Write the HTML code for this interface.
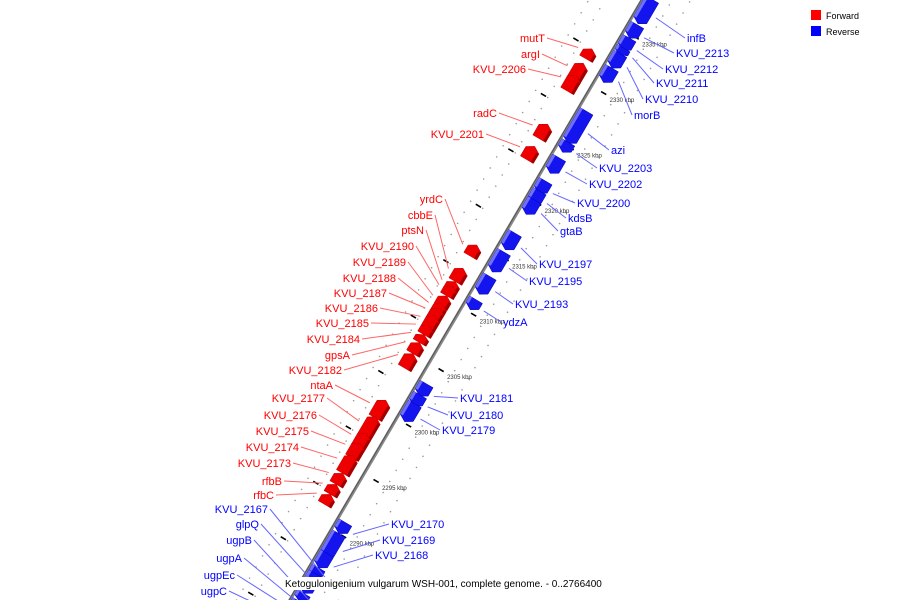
<!DOCTYPE html>
<html><head><meta charset="utf-8"><style>
html,body{margin:0;padding:0;background:#fff;overflow:hidden;}
svg{display:block;font-family:"Liberation Sans",sans-serif;}
</style></head><body>
<svg id="chart" width="900" height="600" viewBox="0 0 900 600" xmlns="http://www.w3.org/2000/svg">
<g id="legend">
<rect x="811" y="10" width="10" height="10" fill="#f00"/>
<text x="826" y="19" font-size="9" fill="#000">Forward</text>
<rect x="811" y="26" width="10" height="10" fill="#00f"/>
<text x="826" y="35" font-size="9" fill="#000">Reverse</text>
</g>
<g id="layer"></g>
<rect x="283" y="577" width="335" height="13" fill="#fff"/>
<text x="285" y="587" font-size="10" fill="#000">Ketogulonigenium vulgarum WSH-001, complete genome. - 0..2766400</text>
</svg>
<script>
const geneNames=["infB","KVU_2213","KVU_2212","KVU_2211","KVU_2210","morB","azi","KVU_2203","KVU_2202","KVU_2200","kdsB","gtaB","KVU_2197","KVU_2195","KVU_2193","ydzA","KVU_2181","KVU_2180","KVU_2179","KVU_2170","KVU_2169","KVU_2168","KVU_2167","glpQ","ugpB","ugpA","ugpEc","ugpC",
"mutT","argI","KVU_2206","radC","KVU_2201","yrdC","cbbE","ptsN","KVU_2190","KVU_2189","KVU_2188","KVU_2187","KVU_2186","KVU_2185","KVU_2184","gpsA","KVU_2182","ntaA","KVU_2177","KVU_2176","KVU_2175","KVU_2174","KVU_2173","rfbB","rfbC"];
const geneStarts=[2336.0,2334.7,2333.6,2333.2,2332.0,2330.7,2325.2,2324.4,2322.5,2320.7,2319.8,2318.8,2315.6,2313.6,2311.6,2310.2,2302.4,2301.5,2300.1,2290.0,2287.9,2286.9,2286.0,2284.6,2283.9,2283.3,2282.7,2282.0,
2331.6,2329.6,2328.7,2324.4,2322.5,2313.8,2311.5,2310.7,2310.2,2309.2,2308.6,2308.0,2307.2,2306.7,2306.0,2305.0,2303.7,2299.2,2297.4,2296.5,2295.6,2294.2,2293.2,2292.3,2291.4];
const geneEnds=[2338.2,2335.9,2334.7,2333.8,2333.3,2332.0,2328.1,2325.3,2323.9,2321.8,2320.9,2320.1,2317.1,2315.4,2313.2,2311.1,2303.5,2302.5,2301.7,2291.0,2290.0,2288.2,2286.9,2286.4,2284.6,2283.9,2283.3,2282.7,
2332.5,2331.2,2330.1,2325.7,2323.7,2314.8,2312.7,2311.5,2311.1,2310.2,2309.5,2309.1,2308.4,2307.5,2306.7,2306.0,2305.0,2300.8,2299.3,2297.8,2296.9,2295.8,2294.2,2293.2,2292.3];
const geneStrands=[-1,-1,-1,-1,-1,-1,-1,-1,-1,-1,-1,-1,-1,-1,-1,-1,-1,-1,-1,-1,-1,-1,-1,-1,-1,-1,-1,-1,
1,1,1,1,1,1,1,1,1,1,1,1,1,1,1,1,1,1,1,1,1,1,1,1,1];
const tickValues=[2290,2295,2300,2305,2310,2315,2320,2325,2330,2335];
// label layout (screen anchor x, y)
const labelX=[687,676,665,656,645,634,611,599,589,577,568,560,539,529,515,503,460,450,442,391,382,375,268,259,252,242,235,227,
545,540,526,497,484,443,433,424,414,406,396,387,378,369,360,350,342,333,325,317,309,299,291,282,274];
const labelY=[38,53,69,83,99,115,150,168,184,203,218,231,264,281,304,322,398,415,430,524,540,555,509,524,540,558,575,591,
38,54,69,113,134,199,215,230,246,262,278,293,308,323,339,355,370,385,398,415,431,447,463,481,495];

const NS="http://www.w3.org/2000/svg";
const layer=document.getElementById('layer');
const c=Math.cos(30.4*Math.PI/180), s=Math.sin(30.4*Math.PI/180);
function u(k){return 82+(k-2290)*12.85;}
function P(lx,k){const ly=-u(k);return [290+lx*c-ly*s,600+lx*s+ly*c];}
function pts(a){return a.map(p=>p[0].toFixed(1)+','+p[1].toFixed(1)).join(' ');}
function mk(tag,attrs){const e=document.createElementNS(NS,tag);for(const k in attrs)e.setAttribute(k,attrs[k]);layer.appendChild(e);return e;}

for(let k=2281;k<=2340;k++){
  for(const lx of [-46,-32,26,42]){
    const p=P(lx,k+0.5);
    const d=mk('circle',{cx:p[0],cy:p[1],r:0.8,fill:'#999'});
    
    
  }
}
for(let k=2282.5;k<=2340;k+=5){
  const a=P(-40,k),b=P(-34,k);
  const l=mk('line',{x1:a[0],y1:a[1],x2:b[0],y2:b[1],stroke:'#000','stroke-width':1.6});
  
  
}
{const a=P(0,2280),b=P(0,2341);
const ax=mk('line',{x1:a[0],y1:a[1],x2:b[0],y2:b[1],stroke:'#888','stroke-width':3.2});


const ax2=mk('line',{x1:a[0]-0.8,y1:a[1],x2:b[0]-0.8,y2:b[1],stroke:'#555','stroke-width':1});

}
tickValues.forEach(k=>{
  const a=P(11,k),b=P(17,k);
  const t=mk('line',{x1:a[0],y1:a[1],x2:b[0],y2:b[1],stroke:'#000','stroke-width':1.6});
  
  
  const q=P(14,k);
  const tx=mk('text',{x:q[0]+6,y:q[1]+9,'font-size':6,fill:'#333'});
  tx.textContent=k+' kbp';
  
  
});
geneNames.forEach((name,i)=>{
  const k1=geneStarts[i],k2=geneEnds[i],st=geneStrands[i];
  const g=document.createElementNS(NS,'g');layer.appendChild(g);
  
  
  const inner=st>0?-11:1, outer=st>0?-26:16, mid=(inner+outer)/2;
  const len=k2-k1, head=Math.min(0.35,len*0.4);
  let poly;
  if(st>0) poly=[P(inner,k1),P(outer,k1),P(outer,k2-head),P(mid,k2),P(inner,k2-head)];
  else poly=[P(inner,k2),P(outer,k2),P(outer,k1+head),P(mid,k1),P(inner,k1+head)];
  const main=document.createElementNS(NS,'polygon');
  main.setAttribute('points',pts(poly));
  main.setAttribute('fill',st>0?'#ee0000':'#1414ee');
  main.setAttribute('stroke',st>0?'#b00':'#00a');
  main.setAttribute('stroke-width','0.5');
  g.appendChild(main);
  let side;
  if(st>0) side=[P(inner,k1),P(inner-3,k1),P(inner-3,k2-head),P(inner,k2-head)];
  else side=[P(inner,k2),P(inner+3,k2),P(inner+3,k1+head),P(inner,k1+head)];
  const sp=document.createElementNS(NS,'polygon');
  sp.setAttribute('points',pts(side));
  sp.setAttribute('fill',st>0?'#a00000':'#7070ff');
  g.appendChild(sp);
  const km=(k1+k2)/2;
  const e=P(st>0?-31:21,km);
  const lx=labelX[i],ly=labelY[i];
  const leftLabel=(st>0)||(lx<300&&st<0);
  const col=st>0?'#f00':'#00f';
  const lc=st>0?'#ff6666':'#6666ff';
  const ln=mk('line',{x1:leftLabel?lx+2:lx-2,y1:ly,x2:e[0],y2:e[1],stroke:lc,'stroke-width':1});
  
  
  const t=mk('text',{x:lx,y:ly+4,'font-size':11,fill:col,'text-anchor':leftLabel?'end':'start'});
  t.textContent=name;
  
  
});
</script>
</body></html>
